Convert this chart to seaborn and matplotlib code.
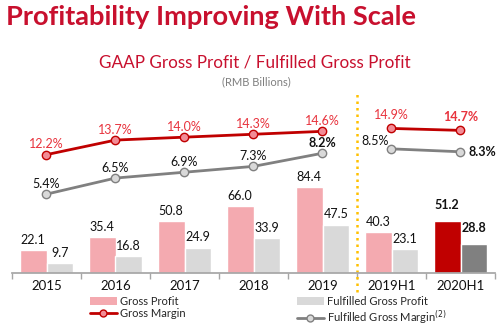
import matplotlib
matplotlib.use("Agg")
import matplotlib.pyplot as plt
import seaborn as sns
import pandas as pd
import numpy as np
from matplotlib.lines import Line2D
from matplotlib.patches import Patch

categories = ["2015", "2016", "2017", "2018", "2019", "2019H1", "2020H1"]
gross_profit = [22.1, 35.4, 50.8, 66.0, 84.4, 40.3, 51.2]
fulfilled_gross_profit = [9.7, 16.8, 24.9, 33.9, 47.5, 23.1, 28.8]
gross_margin = [12.2, 13.7, 14.0, 14.3, 14.6, 14.9, 14.7]
fulfilled_gross_margin = [5.4, 6.5, 6.9, 7.3, 8.2, 8.5, 8.3]
period = ["Annual"] * 5 + ["Half-year"] * 2

sns.set_theme(style="white")
plt.rcParams['font.family'] = ['Lato', 'DejaVu Sans']

RED = "#C00000"
PINK = "#F4AAB0"
LGRAY = "#D9D9D9"
DGRAY = "#808080"

fig = plt.figure(figsize=(5.01, 3.26), dpi=100)
ax = fig.add_axes([12 / 501, 53 / 326, 483 / 501, 163 / 326])

bars = pd.DataFrame({
    "Category": categories * 2,
    "Value": gross_profit + fulfilled_gross_profit,
    "Series": ["Gross Profit"] * len(categories) + ["Fulfilled Gross Profit"] * len(categories),
})
sns.barplot(data=bars, x="Category", y="Value", hue="Series",
            palette={"Gross Profit": PINK, "Fulfilled Gross Profit": LGRAY},
            width=0.77, saturation=1, ax=ax, legend=False)
ax.set_ylim(0, 160)
ax.set_xlim(-0.5, len(categories) - 0.5)

gp_c, fgp_c = ax.containers[0], ax.containers[1]
gp_c[-1].set_facecolor(RED)
fgp_c[-1].set_facecolor(DGRAY)

for cont, vals in ((gp_c, gross_profit), (fgp_c, fulfilled_gross_profit)):
    texts = ax.bar_label(cont, labels=[f"{v:.1f}" for v in vals], padding=3,
                         fontsize=9, color="#111111")
    texts[-1].set_fontweight("bold")
    texts[-1].xyann = (0, 7)

ax.set_xlabel("")
ax.set_ylabel("")
ax.set_yticks([])
for s in ("left", "top", "right"):
    ax.spines[s].set_visible(False)
ax.spines["bottom"].set_color("#A6A6A6")
ax.set_xticks(np.arange(-0.5, len(categories), 1), minor=True)
ax.tick_params(axis="x", which="minor", bottom=True, length=4, color="#A6A6A6", direction="out")
ax.tick_params(axis="x", which="major", length=0, pad=5, labelsize=9.5, labelcolor="#111111")

ax.axvline(4.5, ymin=-0.117, ymax=1.104, clip_on=False, color="#FFC000",
           linestyle=(0, (1, 1.6)), linewidth=1.8)

xpos = np.arange(len(categories))

ax2 = ax.twinx()
ax2.set_ylim(0, 16.8)
sns.lineplot(x=xpos, y=gross_margin, units=period, estimator=None, ax=ax2,
             color=RED, linewidth=2, marker="o", markersize=6,
             markerfacecolor="#F28C96", markeredgecolor=RED, markeredgewidth=1)
ax3 = ax.twinx()
ax3.set_ylim(0, 11.16)
sns.lineplot(x=xpos, y=fulfilled_gross_margin, units=period, estimator=None, ax=ax3,
             color=DGRAY, linewidth=2, marker="o", markersize=6,
             markerfacecolor=LGRAY, markeredgecolor=DGRAY, markeredgewidth=1)

for a in (ax2, ax3):
    a.set_yticks([])
    a.set_ylabel("")
    for s in a.spines.values():
        s.set_visible(False)
ax.set_xlim(-0.5, len(categories) - 0.5)

for i, v in enumerate(gross_margin):
    off = (0, 7.5) if i < 5 else (0, 9.5)
    ax2.annotate(f"{v:.1f}%", (xpos[i], v), xytext=off, textcoords="offset points",
                 ha="center", va="center", fontsize=9, color="#E8333D",
                 fontweight="bold" if i == 6 else "normal")
for i, v in enumerate(fulfilled_gross_margin):
    if i == 5:
        off, ha = (-12, 6), "center"
    elif i == 6:
        off, ha = (6, 0), "left"
    else:
        off, ha = (0, 7.5), "center"
    ax3.annotate(f"{v:.1f}%", (xpos[i], v), xytext=off, textcoords="offset points",
                 ha=ha, va="center", fontsize=9, color="#111111",
                 fontweight="bold" if i in (4, 6) else "normal")

fig.text(6 / 501, 1 - 17 / 326, "Profitability Improving With Scale", fontsize=19.6,
         fontweight="bold", color="#C8102E", ha="left", va="center")
fig.text(255 / 501, 1 - 62 / 326, "GAAP Gross Profit / Fulfilled Gross Profit",
         fontsize=12.3, color="#C8102E", ha="center", va="center")
fig.text(256 / 501, 1 - 82 / 326, "(RMB Billions)", fontsize=8, color="#7F7F7F",
         ha="center", va="center")

h_gp = Patch(facecolor=PINK, edgecolor="none")
h_fgp = Patch(facecolor=LGRAY, edgecolor="none")
h_gm = Line2D([], [], color=RED, linewidth=2, marker="o", markersize=5,
              markerfacecolor="#F28C96", markeredgecolor=RED)
h_fgm = Line2D([], [], color=DGRAY, linewidth=2, marker="o", markersize=5,
               markerfacecolor=LGRAY, markeredgecolor=DGRAY)
leg_kw = dict(frameon=False, fontsize=8, handlelength=2.4, handletextpad=0.3,
              labelspacing=0.12, borderpad=0, borderaxespad=0, loc="upper left")
leg1 = fig.legend([h_gp, h_gm], ["Gross Profit", "Gross Margin"],
                  bbox_to_anchor=(90 / 501, 1 - 296 / 326), **leg_kw)
leg2 = fig.legend([h_fgp, h_fgm], ["Fulfilled Gross Profit", "Fulfilled Gross Margin$^{(2)}$"],
                  bbox_to_anchor=(297 / 501, 1 - 296 / 326), **leg_kw)

fig.savefig("out.png", dpi=100)
